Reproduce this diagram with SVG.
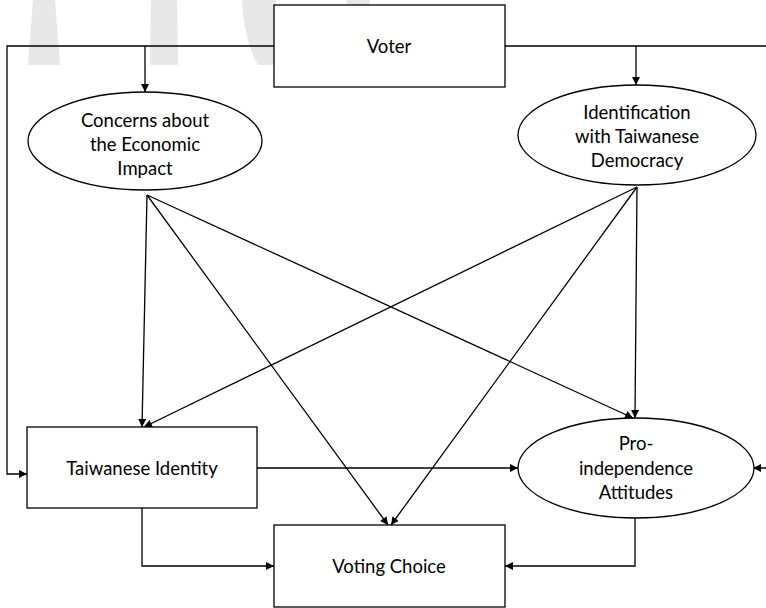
<svg xmlns="http://www.w3.org/2000/svg" width="766" height="608" viewBox="0 0 766 608">
  <style>
    .box { fill: #ffffff; stroke: #000000; stroke-width: 1.3; }
    .wire { fill: none; stroke: #000000; stroke-width: 1.3; }
    .lbl { font-family: Lato, "Open Sans", "Liberation Sans", sans-serif; font-size: 18.5px; fill: #000000; text-anchor: middle; }
    .mark { fill: #e8e8e8; }
  </style>
  <defs>
    <marker id="arrow" viewBox="0 0 10 10" refX="10" refY="5" markerWidth="8" markerHeight="8" markerUnits="userSpaceOnUse" orient="auto">
      <path d="M0,0 L10,5 L0,10 Z" fill="#000000"/>
    </marker>
  </defs>

  <rect width="766" height="608" fill="#ffffff"/>

  <!-- faint background lettering at the top -->
  <g id="backdrop">
    <path class="mark" d="M33,0 L55,0 L60,65 L28,65 Z"/>
    <path class="mark" d="M151,0 L177,0 L178,65 L150,65 Z"/>
    <path class="mark" d="M242,0 L276,0 L276,65 L258,65 Q244,40 242,0 Z"/>
    <path class="mark" d="M347,0 L370,0 L370,5 L347,5 Z"/>
  </g>

  <!-- connectors -->
  <g id="connectors">
    <!-- voter feed lines -->
    <path class="wire" d="M274,46 L7,46 L7,474 L27,474" marker-end="url(#arrow)"/>
    <path class="wire" d="M505,46 L768,46 L768,468 L753,468" marker-end="url(#arrow)"/>
    <path class="wire" d="M145,46 L145,92" marker-end="url(#arrow)"/>
    <path class="wire" d="M636,46 L636,85" marker-end="url(#arrow)"/>
    <!-- from economic concerns -->
    <path class="wire" d="M147,195 L142,427" marker-end="url(#arrow)"/>
    <path class="wire" d="M147,195 L388,525" marker-end="url(#arrow)"/>
    <path class="wire" d="M147,195 L633,418" marker-end="url(#arrow)"/>
    <!-- from democratic identification -->
    <path class="wire" d="M637,187 L144,427" marker-end="url(#arrow)"/>
    <path class="wire" d="M637,187 L391,525" marker-end="url(#arrow)"/>
    <path class="wire" d="M637,187 L635,418" marker-end="url(#arrow)"/>
    <!-- lower paths -->
    <path class="wire" d="M257,468 L518,468" marker-end="url(#arrow)"/>
    <path class="wire" d="M142,508 L142,566 L274,566" marker-end="url(#arrow)"/>
    <path class="wire" d="M635,518 L635,566 L505,566" marker-end="url(#arrow)"/>
  </g>

  <g id="voter">
    <rect class="box" x="274" y="5" width="231" height="82"/>
    <text class="lbl" x="389" y="53">Voter</text>
  </g>

  <g id="economic-concerns">
    <ellipse class="box" cx="145" cy="141" rx="117" ry="49"/>
    <text class="lbl" x="145" y="127">Concerns about</text>
    <text class="lbl" x="145" y="151">the Economic</text>
    <text class="lbl" x="145" y="175">Impact</text>
  </g>

  <g id="democracy-identification">
    <ellipse class="box" cx="637" cy="135" rx="119" ry="50"/>
    <text class="lbl" x="637" y="119">Identification</text>
    <text class="lbl" x="637" y="143">with Taiwanese</text>
    <text class="lbl" x="637" y="167">Democracy</text>
  </g>

  <g id="taiwanese-identity">
    <rect class="box" x="27" y="427" width="230" height="81"/>
    <text class="lbl" x="142" y="475">Taiwanese Identity</text>
  </g>

  <g id="pro-independence">
    <ellipse class="box" cx="636" cy="468" rx="118" ry="50"/>
    <text class="lbl" x="636" y="450">Pro-</text>
    <text class="lbl" x="636" y="475">independence</text>
    <text class="lbl" x="636" y="499">Attitudes</text>
  </g>

  <g id="voting-choice">
    <rect class="box" x="274" y="525" width="231" height="82"/>
    <text class="lbl" x="389" y="573">Voting Choice</text>
  </g>
</svg>
